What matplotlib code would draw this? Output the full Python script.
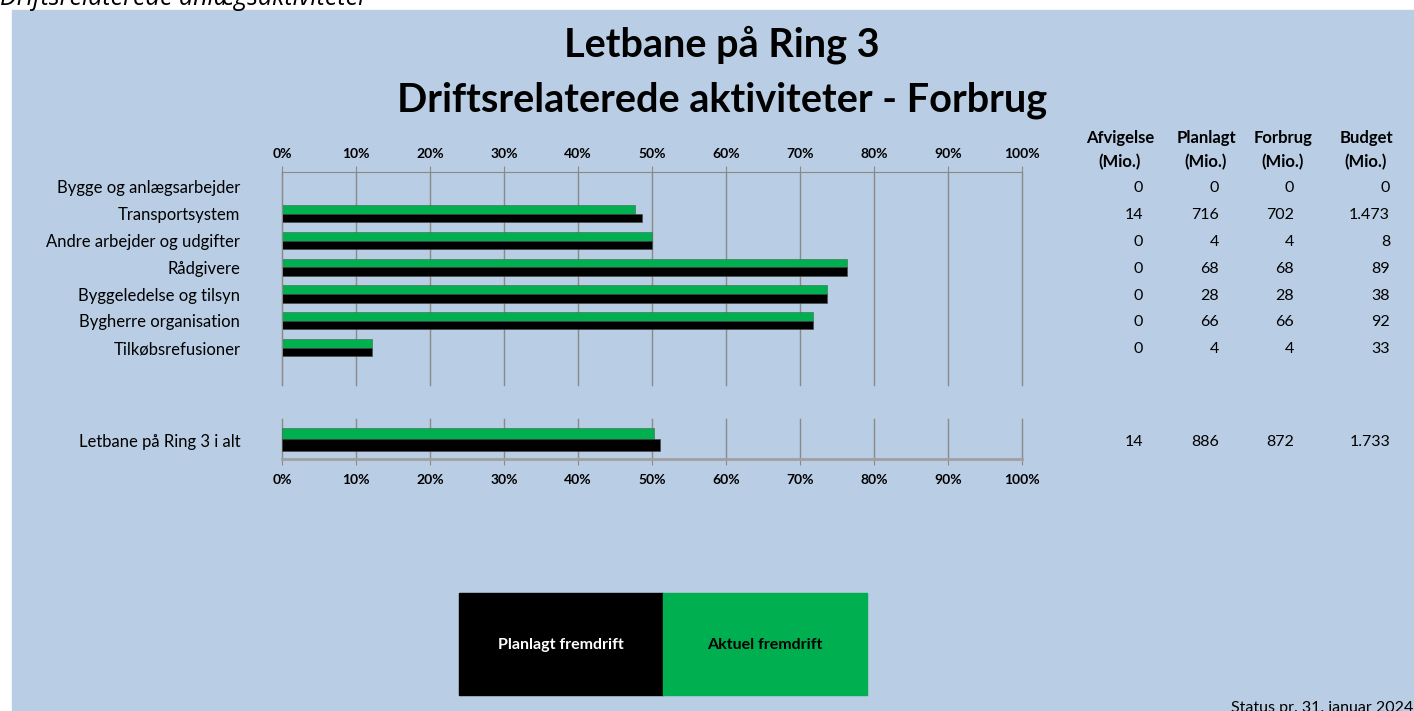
import matplotlib
matplotlib.use("Agg")
import matplotlib.pyplot as plt
import matplotlib.transforms as mtransforms
from matplotlib.patches import Rectangle

plt.rcParams['font.family'] = ['Lato', 'DejaVu Sans']

# data
kategorier = ['Bygge og anlægsarbejder', 'Transportsystem', 'Andre arbejder og udgifter',
              'Rådgivere', 'Byggeledelse og tilsyn', 'Bygherre organisation', 'Tilkøbsrefusioner']
aktuel = [0, 47.7, 50.0, 76.4, 73.7, 71.7, 12.1]      # % (green)
planlagt = [0, 48.6, 50.0, 76.4, 73.7, 71.7, 12.1]    # % (black)
afvigelse = ['0', '14', '0', '0', '0', '0', '0']
planlagt_mio = ['0', '716', '4', '68', '28', '66', '4']
forbrug_mio = ['0', '702', '4', '68', '28', '66', '4']
budget_mio = ['0', '1.473', '8', '89', '38', '92', '33']

total_label = 'Letbane på Ring 3 i alt'
total_aktuel = 50.3
total_planlagt = 51.1
total_tabel = ['14', '886', '872', '1.733']

kol_titler = ['Afvigelse\n(Mio.)', 'Planlagt\n(Mio.)', 'Forbrug\n(Mio.)', 'Budget\n(Mio.)']
ticks = list(range(0, 101, 10))

W, H = 1414, 711
BLUE = '#b9cde4'
GREEN = '#00b050'
GRID = '#8a8a8a'

fig = plt.figure(figsize=(W / 100, H / 100), dpi=100)
fig.patch.set_facecolor('white')
fig.patches.append(Rectangle((12 / W, 0), 1 - 12 / W, 1 - 10 / H,
                             transform=fig.transFigure, color=BLUE, zorder=-5))


def rect(x0, y0, x1, y1):
    return [x0 / W, 1 - y1 / H, (x1 - x0) / W, (y1 - y0) / H]


def fx(x):
    return x / W


def fy(y):
    return 1 - y / H


# titles
fig.text(fx(0), fy(5), 'Driftsrelaterede anlægsaktiviteter', fontsize=18,
         style='italic', ha='left', va='baseline', family=['Open Sans', 'DejaVu Sans'])
fig.text(fx(722), fy(45), 'Letbane på Ring 3', fontsize=28.5, fontweight='bold',
         ha='center', va='center')
fig.text(fx(722), fy(100), 'Driftsrelaterede aktiviteter - Forbrug', fontsize=28.5,
         fontweight='bold', ha='center', va='center')


def style_axis(ax):
    ax.set_facecolor('none')
    ax.set_xlim(0, 100)
    ax.set_xticks(ticks)
    ax.set_xticklabels([f'{t}%' for t in ticks], fontsize=10, fontweight='bold')
    ax.grid(axis='x', color=GRID, linewidth=1)
    for line in ax.get_xgridlines():
        line.set_clip_on(False)
    ax.set_axisbelow(True)
    ax.tick_params(axis='x', color=GRID, length=4)
    ax.tick_params(axis='y', length=0, labelsize=12, pad=30)
    for s in ax.spines.values():
        s.set_visible(False)


# upper chart
ax = fig.add_axes(rect(282, 172, 1022, 385))
style_axis(ax)
y = list(range(len(kategorier)))
ax.barh([v - 0.16 for v in y], aktuel, height=0.32, color=GREEN,
        edgecolor='#3a6b4a', linewidth=0.4)
ax.barh([v + 0.16 for v in y], planlagt, height=0.32, color='black',
        edgecolor='#444444', linewidth=0.4)
ax.set_ylim(7.4, -0.56)
ax.set_yticks(y)
ax.set_yticklabels(kategorier)
ax.xaxis.tick_top()
ax.tick_params(axis='x', pad=5)
ax.spines['top'].set_visible(True)
ax.spines['top'].set_color(GRID)
ax.spines['left'].set_visible(True)
ax.spines['left'].set_color(GRID)

# value table
kol_x = [1143, 1219, 1294, 1390]
kol_cx = [1120, 1206, 1283, 1366]
for cx, t in zip(kol_cx, kol_titler):
    fig.text(fx(cx), fy(150), t, fontsize=12, fontweight='bold', ha='center',
             va='center', linespacing=1.6)
tr = mtransforms.blended_transform_factory(fig.transFigure, ax.transData)
for col, x in zip([afvigelse, planlagt_mio, forbrug_mio, budget_mio], kol_x):
    for i, val in enumerate(col):
        ax.text(fx(x), i, val, transform=tr, fontsize=11.5, ha='right',
                va='center_baseline')

# total chart
ax2 = fig.add_axes(rect(282, 419, 1022, 459))
style_axis(ax2)
ax2.barh([-0.27], [total_aktuel], height=0.52, color=GREEN,
         edgecolor='#3a6b4a', linewidth=0.4)
ax2.barh([0.3], [total_planlagt], height=0.6, color='black',
         edgecolor='#444444', linewidth=0.4)
ax2.set_ylim(1, -1)
ax2.set_yticks([0.1])
ax2.set_yticklabels([total_label])
ax2.tick_params(axis='x', pad=7)
ax2.spines['bottom'].set_visible(True)
ax2.spines['bottom'].set_color('#a0a0a0')
ax2.spines['bottom'].set_linewidth(2)
tr2 = mtransforms.blended_transform_factory(fig.transFigure, ax2.transData)
for val, x in zip(total_tabel, kol_x):
    ax2.text(fx(x), 0.1, val, transform=tr2, fontsize=11.5, ha='right',
             va='center_baseline')

# legend boxes
fig.patches.append(Rectangle((fx(459), fy(695)), (663 - 459) / W, (695 - 593) / H,
                             transform=fig.transFigure, color='black', zorder=2))
fig.patches.append(Rectangle((fx(663), fy(695)), (867 - 663) / W, (695 - 593) / H,
                             transform=fig.transFigure, color=GREEN, zorder=2))
fig.text(fx(561), fy(645), 'Planlagt fremdrift', color='white', fontsize=11.5,
         fontweight='bold', ha='center', va='center', zorder=3)
fig.text(fx(765), fy(645), 'Aktuel fremdrift', color='black', fontsize=11.5,
         fontweight='bold', ha='center', va='center', zorder=3)

fig.text(fx(1413), fy(701), 'Status pr. 31. januar 2024', fontsize=11.5,
         ha='right', va='top')

fig.savefig('out.png', dpi=100, facecolor=fig.get_facecolor())
